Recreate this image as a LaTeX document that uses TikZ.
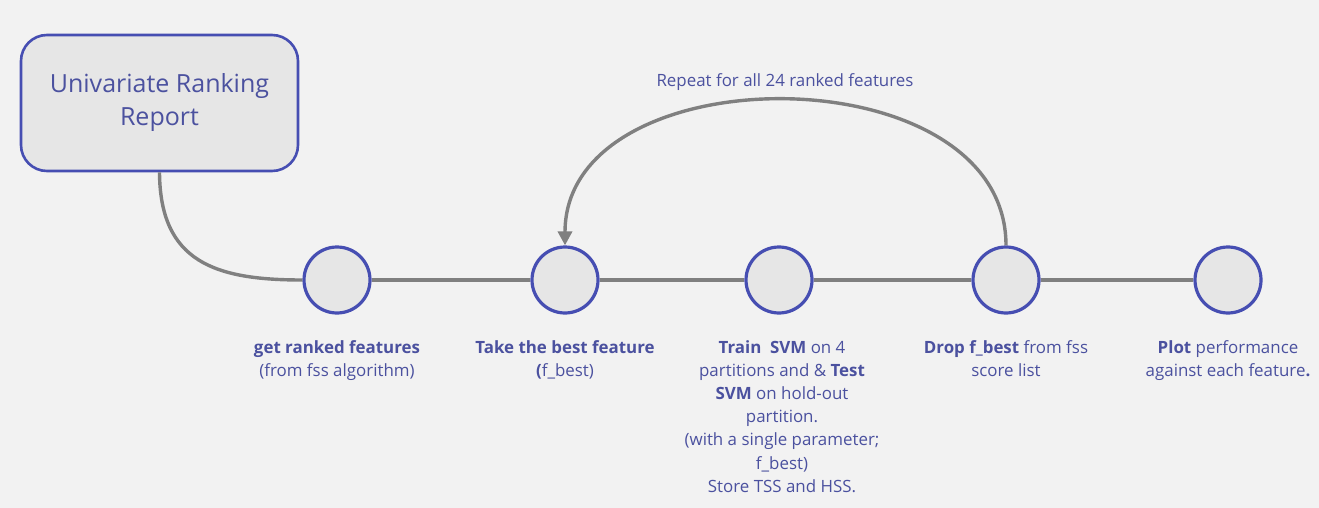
\documentclass[tikz,border=0pt]{standalone}
\usepackage{fontspec}
\setmainfont{Open Sans}
\usetikzlibrary{arrows.meta}
\definecolor{bg}{HTML}{F2F2F2}
\definecolor{fillg}{HTML}{E6E6E6}
\definecolor{edgeb}{HTML}{464EB2}
\definecolor{txtb}{HTML}{4B519F}
\definecolor{linkg}{HTML}{808080}
\tikzset{
  stepcirc/.style={circle, draw=edgeb, line width=3.2pt, fill=fillg, minimum size=66pt, inner sep=0pt},
  reportbox/.style={rounded corners=26pt, draw=edgeb, line width=2.6pt, fill=fillg, minimum width=277pt, minimum height=136pt, align=center, text=txtb, font={\fontsize{25}{33}\selectfont}},
  lbl/.style={anchor=north, inner sep=0pt, align=center, text=txtb, font={\fontsize{16.9}{23.2}\selectfont}},
  link/.style={draw=linkg, line width=3.4pt},
}
\begin{document}
\begin{tikzpicture}[x=1pt,y=-1pt]
\fill[bg] (0,0) rectangle (1319,508);
\useasboundingbox (0,0) rectangle (1319,508);
\node[reportbox] (rep) at (159.5,103) {Univariate Ranking\\Report};
\node[stepcirc] (c1) at (337,280) {};
\node[stepcirc] (c2) at (565,280) {};
\node[stepcirc] (c3) at (779,280) {};
\node[stepcirc] (c4) at (1006,280) {};
\node[stepcirc] (c5) at (1228,280) {};
\draw[link] (rep.south) .. controls (160,262) and (215,280) .. (c1.west);
\draw[link] (c1.east) -- (c2.west);
\draw[link] (c2.east) -- (c3.west);
\draw[link] (c3.east) -- (c4.west);
\draw[link] (c4.east) -- (c5.west);
\draw[link, -{Triangle[width=14pt,length=14pt]}] (c4.north) .. controls (1006,52) and (565,52) .. (c2.north);
\node[lbl, anchor=base] (rpt) at (785,87) {Repeat for all 24 ranked features};
\node[lbl] (l1) at (337,340) {\textbf{get ranked features}\\(from fss algorithm)};
\node[lbl] (l2) at (565,340) {\textbf{Take the best feature}\\\textbf{(}f\_best)};
\node[lbl] (l3) at (782,340) {\textbf{Train~ SVM} on 4\\partitions and \& \textbf{Test}\\\textbf{SVM} on hold-out\\partition.\\(with a single parameter;\\f\_best)\\Store TSS and HSS.};
\node[lbl] (l4) at (1006,340) {\textbf{Drop f\_best} from fss\\score list};
\node[lbl] (l5) at (1228,340) {\textbf{Plot} performance\\against each feature\textbf{.}};
\end{tikzpicture}
\end{document}
